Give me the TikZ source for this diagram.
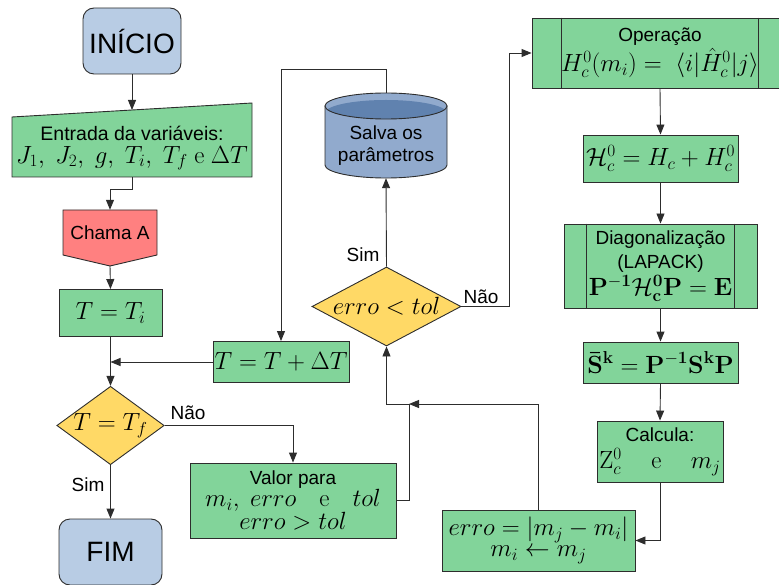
\documentclass[tikz,border=0pt]{standalone}
\usepackage{amsmath,amssymb}
\usepackage[no-math]{fontspec}
\setmainfont{Liberation Sans}
\usetikzlibrary{arrows.meta,shapes.geometric}
\definecolor{gfill}{RGB}{130,212,154}
\definecolor{yfill}{RGB}{255,217,102}
\definecolor{bfill}{RGB}{184,204,228}
\definecolor{rfill}{RGB}{255,128,128}
\definecolor{cylbody}{RGB}{145,170,205}
\definecolor{cyltop}{RGB}{96,130,175}
\definecolor{bord}{RGB}{45,45,45}
\newcommand\fsz[2]{\fontsize{#1}{#2}\selectfont}
\begin{document}
\begin{tikzpicture}[x=1pt,y=-1pt,
  box/.style={draw=bord, line width=0.9pt, fill=gfill, inner sep=0pt, align=center, font=\fsz{19}{22}},
  term/.style={draw=bord, line width=0.9pt, fill=bfill, rounded corners=11pt, inner sep=0pt, font=\fsz{28}{32}},
  dec/.style={draw=bord, line width=0.9pt, fill=yfill, diamond, inner sep=0pt, font=\fsz{19}{22}},
  lbl/.style={inner sep=0pt, font=\fsz{19}{22}},
  arr/.style={draw=bord, line width=0.9pt, -{Triangle[length=10pt,width=8pt]}},
  ln/.style={draw=bord, line width=0.9pt},
  bigm/.style={font=\fsz{23}{27}}
]
\useasboundingbox (0,0) rectangle (779,585);

% start / end
\node[term, minimum width=98pt, minimum height=66pt] (ini) at (132,41) {INÍCIO};
\node[term, minimum width=103pt, minimum height=66pt] (fim) at (110.5,552) {FIM};

% manual input
\filldraw[draw=bord, line width=0.9pt, fill=gfill] (12,117) -- (252,103) -- (252,177) -- (12,177) -- cycle;
\node[inner sep=0pt, minimum width=240pt, minimum height=58pt, align=center, font=\fsz{19.5}{23}] (ent) at (132,148)
  {Entrada da variáveis:\\ \fsz{23.5}{23}$J_1,\ J_2,\ g,\ T_i,\ T_f$ $\mathrm{e}$ $\Delta T$};
\coordinate (enttop) at (132,110);

% off-page connector
\filldraw[draw=bord, line width=0.9pt, fill=rfill] (63,210) -- (157,210) -- (157,255) -- (110,266) -- (63,255) -- cycle;
\node[inner sep=0pt, minimum width=94pt, minimum height=45pt, font=\fsz{19}{22}] (cha) at (110,232.5) {Chama A};
\coordinate (chatip) at (110,266);

\node[box, bigm, minimum width=103pt, minimum height=47pt] (ti) at (110.5,313) {$T=T_i$};
\node[box, bigm, minimum width=136pt, minimum height=41pt] (tdt) at (281,362) {$T=T+\Delta T$};
\node[dec, bigm, minimum width=101pt, minimum height=74pt, aspect=1.37] (tf) at (110.5,425.5) {$T=T_f$};

\node[box, minimum width=206pt, minimum height=75pt, font=\fsz{19}{21}] (val) at (293,500.5)
  {Valor para\\ \fsz{23}{21}$m_i,\ erro\quad\mathrm{e}\quad tol$\\ \fsz{23}{21}$erro>tol$};

% cylinder
\node[inner sep=0pt, minimum width=122pt, minimum height=85pt] (cyl) at (386,135.5) {};
\filldraw[draw=bord, line width=0.9pt, fill=cylbody] (325,106) -- (325,165) arc[start angle=180, end angle=0, x radius=61, y radius=13] -- (447,106) -- cycle;
\begin{scope}
  \clip (386,106) ellipse [x radius=61, y radius=13];
  \fill[cylbody] (386,106) ellipse [x radius=61, y radius=13];
  \fill[cyltop] (386,113) ellipse [x radius=61, y radius=13];
\end{scope}
\draw[ln] (386,106) ellipse [x radius=61, y radius=13];
\node[align=center, inner sep=0pt, font=\fsz{19}{22}] at (386,146) {Salva os\\parâmetros};

\node[dec, bigm, minimum width=149pt, minimum height=79pt, aspect=1.89] (et) at (386.5,306.5) {$erro<tol$};

% right column
\node[box, minimum width=256pt, minimum height=70pt, font=\fsz{19}{30}] (op) at (660,53)
  {Operação\\ \fsz{24.3}{30}$H_c^0(m_i) =\ \langle i|\hat{H}_c^0|j\rangle$};
\draw[ln] ([xshift=30pt]op.north west) -- ([xshift=30pt]op.south west);
\draw[ln] ([xshift=-30pt]op.north east) -- ([xshift=-30pt]op.south east);

\node[box, bigm, minimum width=155pt, minimum height=47pt] (hb) at (660.5,158.5) {$\mathcal{H}_c^0=H_c+H_c^0$};

\node[box, minimum width=193pt, minimum height=84pt, font=\fsz{19}{24}] (dg) at (660.5,266)
  {Diagonalização\\(LAPACK)\\[2pt] \fsz{24.5}{26}$\mathbf{P^{-1}\mathcal{H}_c^0P=E}$};
\draw[ln] ([xshift=23pt]dg.north west) -- ([xshift=23pt]dg.south west);
\draw[ln] ([xshift=-23pt]dg.north east) -- ([xshift=-23pt]dg.south east);

\node[box, bigm, minimum width=155pt, minimum height=41pt] (sb) at (660.5,362.5) {$\mathbf{\bar{S}^k=P^{-1}S^kP}$};

\node[box, minimum width=126pt, minimum height=61pt, font=\fsz{19}{27}] (calc) at (660,451.5)
  {Calcula:\\ \fsz{23}{27}$\mathrm{Z}_c^0\quad\ \mathrm{e}\quad\ m_j$};

\node[box, minimum width=193pt, minimum height=61pt, font=\fsz{25}{21}] (err) at (538.5,540.5)
  {$erro=|m_j-m_i|$\\ $m_i\leftarrow m_j$};

\coordinate (j) at (409,404);

% labels
\node[lbl] at (188,413) {Não};
\node[lbl] at (88,485) {Sim};
\node[lbl] at (363,255) {Sim};
\node[lbl] at (481,297) {Não};

% connectors
\draw[arr] (ini.south) -- (enttop);
\draw[arr] (ent.south) -- ++(0,12) -| (cha.north);
\draw[arr] (chatip) -- (ti.north);
\draw[arr] (ti.south) -- (tf.north);
\draw[arr] (tdt.west) -- (tdt.west -| ti.south);
\draw[arr] (tf.east) -| (val.north);
\draw[arr] (tf.south) -- (fim.north);
\draw[arr] (val.east) -| (j) -| (et.south);
\draw[arr] (err.north) |- (j);
\draw[arr] (et.north) -- (cyl.south);
\draw[arr] (cyl.north) -- ++(0,-23) -| (tdt.north);
\draw[arr] (et.east) -- ++(48,0) |- (op.west);
\draw[arr] (op.south) -- (hb.north);
\draw[arr] (hb.south) -- (dg.north);
\draw[arr] (dg.south) -- (sb.north);
\draw[arr] (sb.south) -- (calc.north);
\draw[arr] (calc.south) |- (err.east);
\end{tikzpicture}
\end{document}
